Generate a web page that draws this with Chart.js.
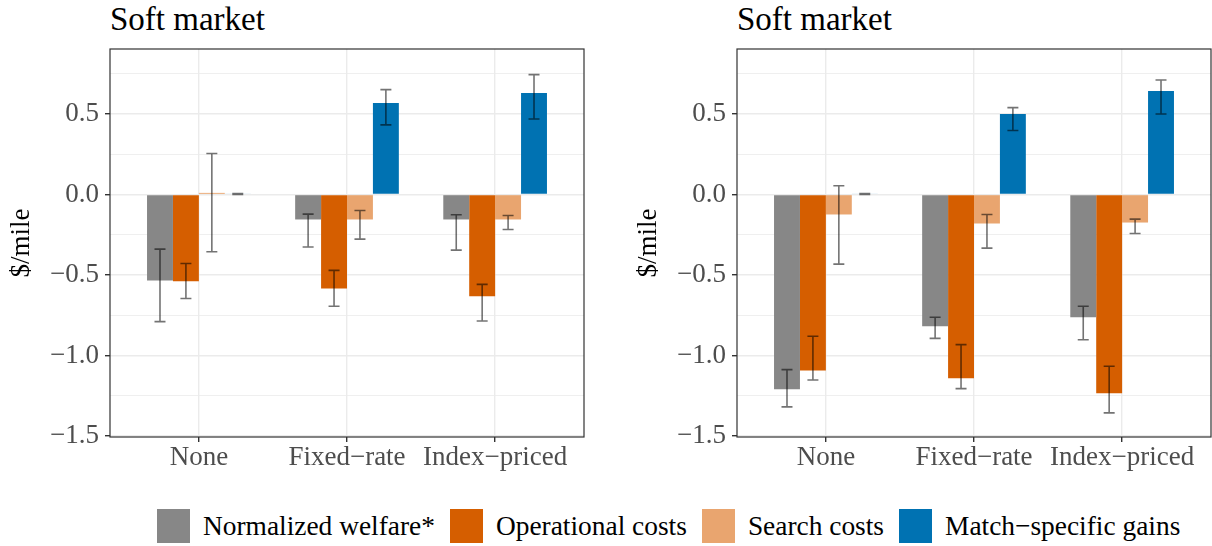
<!DOCTYPE html>
<html><head><meta charset="utf-8">
<script src="https://cdn.jsdelivr.net/npm/chart.js@4/dist/chart.umd.min.js"></script>
<style>
body{margin:0;width:1212px;height:546px;background:#fff;position:relative;overflow:hidden;font-family:'Liberation Serif','DejaVu Serif',serif}
canvas{position:absolute;top:0}
.title{position:absolute;top:1px;font-size:33px;line-height:36px;color:#000;white-space:nowrap;font-family:'Liberation Serif',serif}
#legend{position:absolute;left:157px;top:509px;height:34px;display:flex;align-items:center;font-size:27.4px;color:#000;white-space:nowrap;font-family:'Liberation Serif',serif}
#legend .sw{display:inline-block;width:33px;height:34px;margin-right:13px}
#legend .it{display:flex;align-items:center;margin-right:15px}
</style></head>
<body>
<div class="title" style="left:110px">Soft market</div>
<div class="title" style="left:737px">Soft market</div>
<canvas id="c1" width="585" height="490" style="left:0"></canvas>
<canvas id="c2" width="585" height="490" style="left:627px"></canvas>
<div id="legend"></div>
<script>
// ---- data ----
const categories = ['None', 'Fixed\u2212rate', 'Index\u2212priced'];
const seriesNames = ['Normalized welfare*', 'Operational costs', 'Search costs', 'Match\u2212specific gains'];
const seriesColors = ['#878787', '#d55e00', '#e9a56f', '#0072b2'];
const yTickValues = [-1.5, -1.25, -1.0, -0.75, -0.5, -0.25, 0, 0.25, 0.5, 0.75];
const yMajorLabels = ['\u22121.5', '\u22121.0', '\u22120.5', '0.0', '0.5'];

// Left panel values and 95% intervals [low, high]
const L_welfare = [-0.533, -0.155, -0.155];
const L_welfareErr = [[-0.789, -0.339], [-0.326, -0.122], [-0.345, -0.126]];
const L_operational = [-0.539, -0.583, -0.632];
const L_operationalErr = [[-0.645, -0.428], [-0.694, -0.471], [-0.785, -0.558]];
const L_search = [0.010, -0.155, -0.155];
const L_searchErr = [[-0.355, 0.254], [-0.277, -0.099], [-0.217, -0.130]];
const L_match = [0.004, 0.568, 0.630];
const L_matchErr = [[0.000, 0.006], [0.432, 0.651], [0.469, 0.744]];

// Right panel values and intervals
const R_welfare = [-1.209, -0.818, -0.762];
const R_welfareErr = [[-1.318, -1.087], [-0.893, -0.762], [-0.901, -0.694]];
const R_operational = [-1.093, -1.140, -1.233];
const R_operationalErr = [[-1.151, -0.880], [-1.205, -0.932], [-1.355, -1.066]];
const R_search = [-0.124, -0.180, -0.174];
const R_searchErr = [[-0.432, 0.054], [-0.333, -0.124], [-0.242, -0.153]];
const R_match = [0.004, 0.500, 0.643];
const R_matchErr = [[0.000, 0.006], [0.397, 0.539], [0.500, 0.711]];

// ---- chart ----
const FONT = "'Liberation Serif', 'DejaVu Serif', serif";
const isMajor = v => Math.abs(v * 2 - Math.round(v * 2)) < 1e-6;

const panelPlugin = {
  id: 'panel',
  afterDatasetsDraw(chart) {
    const ctx = chart.ctx, ys = chart.scales.y;
    ctx.save();
    ctx.strokeStyle = 'rgba(0,0,0,0.55)';
    ctx.lineWidth = 1.6;
    chart.data.datasets.forEach((ds, di) => {
      const meta = chart.getDatasetMeta(di);
      meta.data.forEach((bar, i) => {
        const e = ds.errors[i];
        const x = bar.x, y1 = ys.getPixelForValue(e[0]), y2 = ys.getPixelForValue(e[1]);
        const hw = 5.5;
        ctx.beginPath();
        ctx.moveTo(x, y1); ctx.lineTo(x, y2);
        ctx.moveTo(x - hw, y1); ctx.lineTo(x + hw, y1);
        ctx.moveTo(x - hw, y2); ctx.lineTo(x + hw, y2);
        ctx.stroke();
      });
    });
    ctx.restore();
  },
  afterDraw(chart) {
    const a = chart.chartArea, ctx = chart.ctx;
    ctx.save();
    ctx.strokeStyle = '#333333';
    ctx.lineWidth = 1.2;
    ctx.strokeRect(a.left, a.top, a.right - a.left, a.bottom - a.top);
    ctx.restore();
  }
};

function makeChart(id, vals, errs) {
  const datasets = seriesNames.map((name, s) => ({
    label: name,
    data: vals[s].map((v, i) => ({ x: i, y: v })),
    errors: errs[s],
    backgroundColor: seriesColors[s],
    borderWidth: 0,
    categoryPercentage: 0.7,
    barPercentage: 1.0
  }));
  return new Chart(document.getElementById(id), {
    type: 'bar',
    data: { datasets },
    plugins: [panelPlugin],
    options: {
      responsive: false,
      animation: false,
      devicePixelRatio: 1,
      layout: { padding: { top: 49, right: 1, left: 0, bottom: 0 } },
      plugins: { legend: { display: false }, tooltip: { enabled: false }, title: { display: false } },
      scales: {
        x: {
          type: 'linear', min: -0.6, max: 2.6, offset: false, bounds: 'data',
          afterBuildTicks: s => { s.ticks = categories.map((c, i) => ({ value: i })); },
          afterFit: s => { s.height = 53; },
          ticks: { callback: v => categories[v], color: '#4d4d4d', font: { family: FONT, size: 27 }, padding: 0, maxRotation: 0, autoSkip: false },
          grid: { offset: false, color: '#ebebeb', lineWidth: 1.4, tickColor: '#333333', tickLength: 5 },
          border: { display: false }
        },
        y: {
          min: -1.505, max: 0.903, bounds: 'data',
          afterBuildTicks: s => { s.ticks = yTickValues.map(v => ({ value: v })); },
          afterFit: s => { s.width = 110; },
          ticks: {
            callback: v => isMajor(v) ? yMajorLabels[Math.round((v + 1.5) * 2)] : '',
            color: '#4d4d4d', font: { family: FONT, size: 27 }, padding: 6, autoSkip: false
          },
          grid: {
            color: '#ebebeb',
            lineWidth: c => (c.tick && isMajor(c.tick.value)) ? 1.4 : 0.8,
            tickColor: c => (c.tick && isMajor(c.tick.value)) ? '#333333' : 'rgba(0,0,0,0)',
            tickLength: 5
          },
          border: { display: false },
          title: { display: true, text: '$/mile', color: '#000', font: { family: FONT, size: 27 }, padding: { top: 6, bottom: 0 } }
        }
      }
    }
  });
}

makeChart('c1', [L_welfare, L_operational, L_search, L_match], [L_welfareErr, L_operationalErr, L_searchErr, L_matchErr]);
makeChart('c2', [R_welfare, R_operational, R_search, R_match], [R_welfareErr, R_operationalErr, R_searchErr, R_matchErr]);

// legend
const lg = document.getElementById('legend');
seriesNames.forEach((n, i) => {
  const it = document.createElement('span'); it.className = 'it';
  const sw = document.createElement('span'); sw.className = 'sw'; sw.style.background = seriesColors[i];
  const tx = document.createElement('span'); tx.textContent = n;
  it.appendChild(sw); it.appendChild(tx); lg.appendChild(it);
});
</script>
</body></html>
